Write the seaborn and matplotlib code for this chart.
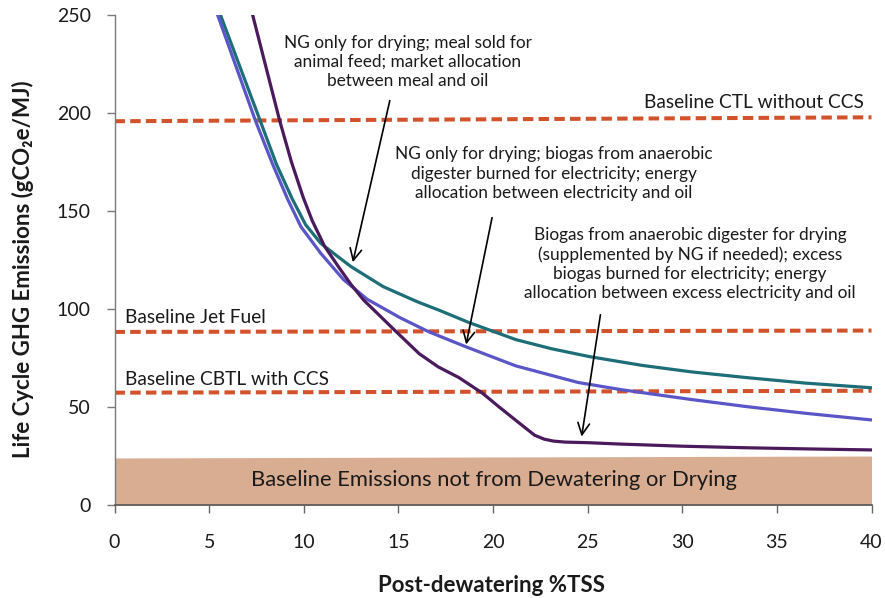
import matplotlib
matplotlib.use("Agg")
import matplotlib.pyplot as plt
import seaborn as sns
import pandas as pd

# ---- data ----
teal_x = [5.6, 7.7, 8.55, 9.4, 10.1, 10.9, 11.7, 12.5, 14.2, 16.0, 17.2, 18.7, 21.2, 23.1, 25.1, 27.9, 30.5, 33.4, 36.5, 40]
teal_y = [250, 196, 174, 156, 143, 133.5, 127.5, 121.6, 111.4, 103.7, 99.2, 93.2, 84.4, 79.7, 75.7, 71.2, 67.9, 65.0, 62.2, 59.8]

blue_x = [5.45, 7.45, 8.35, 9.15, 9.85, 10.9, 12.1, 13.35, 15.1, 16.6, 18.6, 21.2, 24.5, 26.8, 30.5, 33.4, 36.5, 40]
blue_y = [250, 196, 174, 156, 142, 128.4, 115.0, 105.0, 95.5, 88.4, 80.6, 71.0, 62.5, 58.8, 53.8, 50.2, 46.8, 43.4]

purple_x = [7.3, 8.73, 9.35, 9.97, 10.45, 11.1, 11.83, 12.5, 13.16, 14.1, 14.8, 16.1, 17.1, 18.2, 19.45, 20.3, 21.4, 22.2, 22.7, 23.2, 23.8, 25, 26.7, 30, 33.4, 36.7, 40]
purple_y = [250, 196, 175, 157, 145, 132, 121.6, 112.5, 104.6, 95.8, 89.2, 77.2, 70.5, 65.0, 57.0, 50.2, 41.7, 35.6, 33.6, 32.6, 32.1, 31.8, 31.1, 30.0, 29.2, 28.6, 28.1]

baseline_x = [0, 40]
ctl_y = [195.8, 197.8]
jet_y = [88.3, 89.0]
cbtl_y = [57.3, 58.3]
band_top = [24.0, 25.0]

x_ticks = [0, 5, 10, 15, 20, 25, 30, 35, 40]
y_ticks = [0, 50, 100, 150, 200, 250]

# ---- styling ----
sns.set_theme(style="white")
plt.rcParams['font.family'] = ['Lato', 'DejaVu Sans']

TEAL = "#1e6e78"
BLUE = "#5a56c8"
PURPLE = "#4a1a5c"
RED = "#d2522b"
BAND = "#d9ad91"

fig = plt.figure(figsize=(8.85, 5.98), dpi=100)
ax = fig.add_axes([114.5 / 885, 1 - 505 / 598, (871.5 - 114.5) / 885, (505 - 15) / 598])

ax.fill_between(baseline_x, 0, band_top, color=BAND, linewidth=0, zorder=1)

for yv in (ctl_y, jet_y, cbtl_y):
    df = pd.DataFrame({"x": baseline_x, "y": yv})
    sns.lineplot(data=df, x="x", y="y", ax=ax, color=RED, linewidth=2.9,
                 linestyle=(0, (2.6, 1.3)), estimator=None, zorder=2)

for xs, ys, c in ((teal_x, teal_y, TEAL), (blue_x, blue_y, BLUE), (purple_x, purple_y, PURPLE)):
    df = pd.DataFrame({"x": xs, "y": ys})
    sns.lineplot(data=df, x="x", y="y", ax=ax, color=c, linewidth=2.3,
                 estimator=None, sort=False, zorder=3,
                 solid_joinstyle="round", solid_capstyle="round")

ax.set_xlim(0, 40)
ax.set_ylim(0, 250)
ax.set_xticks(x_ticks)
ax.set_yticks(y_ticks)

for s in ("top", "right"):
    ax.spines[s].set_visible(False)
ax.spines["left"].set_color("#7a7a7a")
ax.spines["bottom"].set_color("#555555")
ax.spines["left"].set_linewidth(1.0)
ax.spines["bottom"].set_linewidth(1.2)

ax.tick_params(axis="x", direction="out", length=6, width=1, color="#666666",
               labelsize=14, pad=15, labelcolor="#1a1a1a", bottom=True)
ax.tick_params(axis="y", direction="out", length=6, width=1, color="#7a7a7a",
               labelsize=14, pad=11, labelcolor="#1a1a1a", left=True)

ax.set_xlabel("Post-dewatering %TSS", fontsize=16, fontweight="bold", color="#1a1a1a", va="center")
ax.xaxis.set_label_coords((492 - 114.5) / 757, (505 - 586) / 490)
ax.set_ylabel("Life Cycle GHG Emissions (gCO\u2082e/MJ)", fontsize=16, fontweight="bold",
              color="#1a1a1a", va="center")
ax.yaxis.set_label_coords((23 - 114.5) / 757, (505 - 269) / 490)

txt_kw = dict(ha="center", va="center", multialignment="center", fontsize=12.4,
              color="#1a1a1a", linespacing=1.25, zorder=5)
ax.text(15.51, 226, "NG only for drying; meal sold for\nanimal feed; market allocation\nbetween meal and oil", **txt_kw)
ax.text(23.2, 169.1, "NG only for drying; biogas from anaerobic\ndigester burned for electricity; energy\nallocation between electricity and oil", **txt_kw)
ax.text(30.41, 123, "Biogas from anaerobic digester for drying\n(supplemented by NG if needed); excess\nbiogas burned for electricity; energy\nallocation between excess electricity and oil", **txt_kw)

arrow_kw = dict(arrowstyle="->,head_length=0.7,head_width=0.35", color="black", lw=1.2)
ax.annotate("", xy=(12.56, 122.5), xytext=(14.58, 207.7), arrowprops=arrow_kw, zorder=6)
ax.annotate("", xy=(18.55, 80.5), xytext=(19.98, 148), arrowprops=arrow_kw, zorder=6)
ax.annotate("", xy=(24.66, 33.5), xytext=(25.7, 98.5), arrowprops=arrow_kw, zorder=6)

ax.text(39.6, 205.6, "Baseline CTL without CCS", ha="right", va="center", fontsize=13.8, color="#1a1a1a")
ax.text(0.58, 95.9, "Baseline Jet Fuel", ha="left", va="center", fontsize=13.8, color="#1a1a1a")
ax.text(0.58, 63.8, "Baseline CBTL with CCS", ha="left", va="center", fontsize=13.8, color="#1a1a1a")
ax.text(20.05, 12.8, "Baseline Emissions not from Dewatering or Drying", ha="center", va="center",
        fontsize=15.8, color="#1a1a1a", zorder=5)

fig.savefig("out.png", dpi=100)
